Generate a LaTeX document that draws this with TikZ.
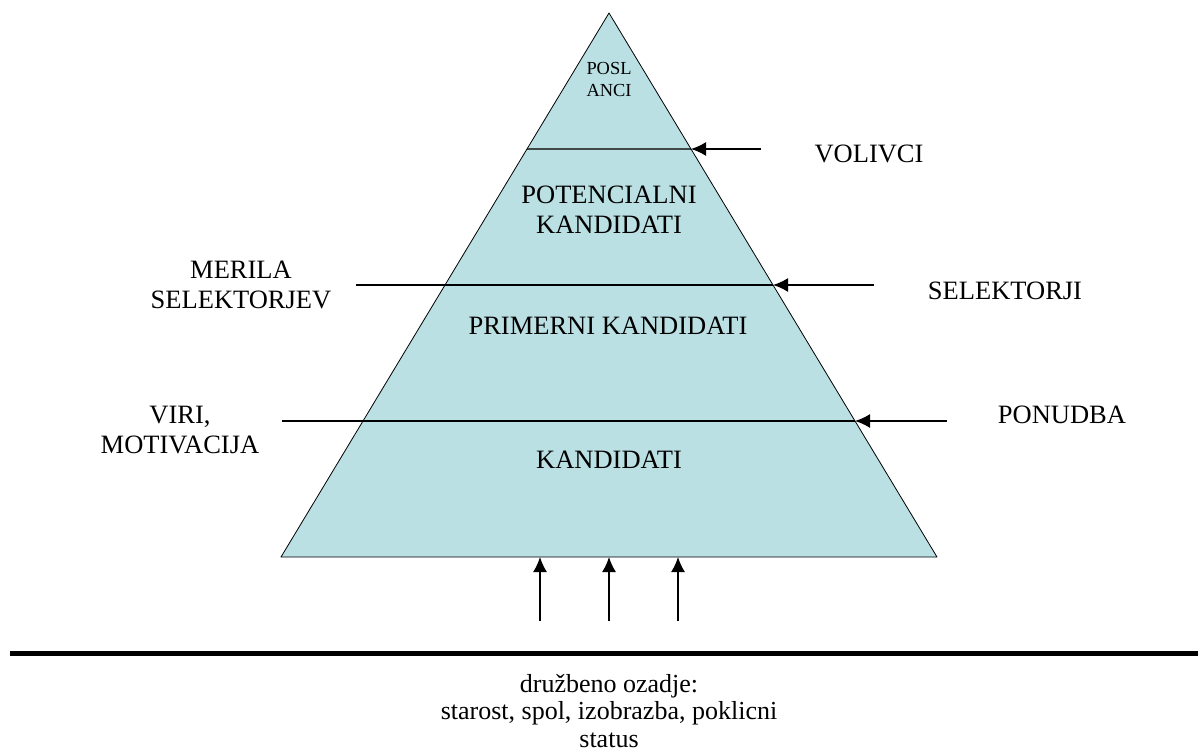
\documentclass[tikz,border=0pt]{standalone}
\usepackage{fontspec}
\setmainfont{Liberation Serif}
\usetikzlibrary{arrows.meta, calc, positioning}
\definecolor{pyrfill}{RGB}{186,224,228}
\definecolor{bandgray}{RGB}{64,72,72}
\tikzset{
  lbl/.style ={font=\fontsize{26.5}{30}\selectfont, align=center, anchor=base, inner sep=0pt},
  small lbl/.style={font=\fontsize{18.4}{22}\selectfont, align=center, anchor=base, inner sep=0pt},
  arr/.style={-{Latex[length=15pt,width=14pt]}, line width=1.5pt}
}

\begin{document}
\begin{tikzpicture}[x=1pt, y=-1pt, line join=round]
\useasboundingbox (0,0) rectangle (1198,754);
% pyramid
\coordinate (apex) at (609,13);
\coordinate (bl) at (281,557);
\coordinate (br) at (937,557);
\coordinate (l1) at ($(apex)!0.25!(bl)$);
\coordinate (r1) at ($(apex)!0.25!(br)$);
\coordinate (l2) at ($(apex)!0.5!(bl)$);
\coordinate (r2) at ($(apex)!0.5!(br)$);
\coordinate (l3) at ($(apex)!0.75!(bl)$);
\coordinate (r3) at ($(apex)!0.75!(br)$);
\fill[pyrfill] (apex) -- (bl) -- (br) -- cycle;

\draw[bandgray, line width=2pt] (l1) -- (r1);
\draw[line width=2.2pt] (l2) -- (r2);
\draw[line width=1.8pt] (l3) -- (r3);
\draw[line width=0.8pt] (apex) -- (bl) -- (br) -- cycle;

% outer ends
\coordinate (volEnd) at (761,149);
\coordinate (merEnd) at (356,285);
\coordinate (selEnd) at (874,285);
\coordinate (virEnd) at (282,421);
\coordinate (ponEnd) at (947,421);
\draw[line width=1.2pt] (merEnd) -- (l2);
\draw[line width=1.6pt] (virEnd) -- (l3);
\draw[arr] (volEnd) -- (r1);
\draw[arr] (selEnd) -- (r2);
\draw[arr] (ponEnd) -- (r3);

% labels (base = last line)
\node[small lbl] (poslanci) at (609,97) {POSL\\ANCI};
\node[lbl] (potencialni) at (609,233) {POTENCIALNI\\KANDIDATI};
\node[lbl] (primerni) at (608,334) {PRIMERNI KANDIDATI};
\node[lbl] (kandidati) at (609,468) {KANDIDATI};
\node[lbl] (volivci) at (869,163) {VOLIVCI};
\node[lbl] (merila) at (241,308) {MERILA\\SELEKTORJEV};
\node[lbl] (selektorji) at (1005,299) {SELEKTORJI};
\node[lbl] (viri) at (180,453) {VIRI,\\MOTIVACIJA};
\node[lbl] (ponudba) at (1062,423) {PONUDBA};

% social background
\foreach \x/\n in {540/1, 609/2, 678/3} {
  \coordinate (tip\n) at (\x,557);
  \coordinate (tail\n) at (\x,621);
  \draw[arr] (tail\n) -- (tip\n);
}
\coordinate (groundL) at (10,653);
\coordinate (groundR) at (1198,653);
\draw[line width=5pt] (groundL) -- (groundR);
\node[lbl, font=\fontsize{26}{27.5}\selectfont] (ozadje) at (609,747)
  {družbeno ozadje:\\starost, spol, izobrazba, poklicni\\status};
\end{tikzpicture}
\end{document}
